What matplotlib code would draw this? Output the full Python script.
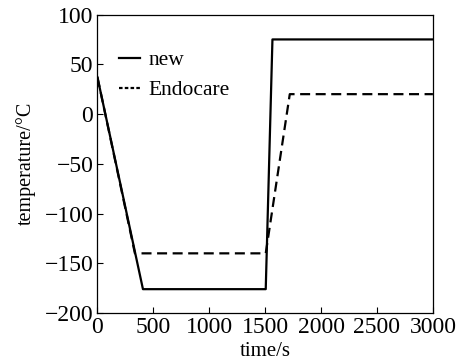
import matplotlib
matplotlib.use("Agg")
import matplotlib.pyplot as plt

# time (s) and temperature (degC) breakpoints
time_new = [0, 407, 1505, 1565, 3000]
temp_new = [37, -176, -176, 75, 75]

time_endo = [0, 335, 1505, 1720, 3000]
temp_endo = [37, -140, -140, 20, 20]

xticks = [0, 500, 1000, 1500, 2000, 2500, 3000]
yticks = [-200, -150, -100, -50, 0, 50, 100]

plt.rcParams["font.family"] = ["Liberation Serif", "DejaVu Serif"]

fig = plt.figure(figsize=(4.64, 3.64), dpi=100)
ax = fig.add_axes([0.210, 0.140, 0.723, 0.820])

ax.plot(time_new, temp_new, color="black", lw=1.6, label="new")
ax.plot(time_endo, temp_endo, color="black", lw=1.6, ls=(0, (4.5, 2.5)), label="Endocare")

ax.set_xlim(0, 3000)
ax.set_ylim(-200, 100)
ax.set_xticks(xticks)
ax.set_yticks(yticks)
ax.tick_params(direction="in", labelsize=17, length=4, width=0.8, pad=3)
for sp in ax.spines.values():
    sp.set_linewidth(0.9)

ax.set_xlabel("time/s", fontsize=15, labelpad=3)
ax.set_ylabel("temperature/\u00b0C", fontsize=14.5, labelpad=6)

leg = ax.legend(loc="upper left", bbox_to_anchor=(0.065, 0.88), frameon=False,
                fontsize=15.5, handlelength=0.95, handletextpad=0.4,
                labelspacing=0.45, borderaxespad=0, borderpad=0)
# legend sample of the dashed line is drawn with short dashes
leg.get_lines()[1].set_dashes([1.6, 1.0])

fig.savefig("out.png", dpi=100)
